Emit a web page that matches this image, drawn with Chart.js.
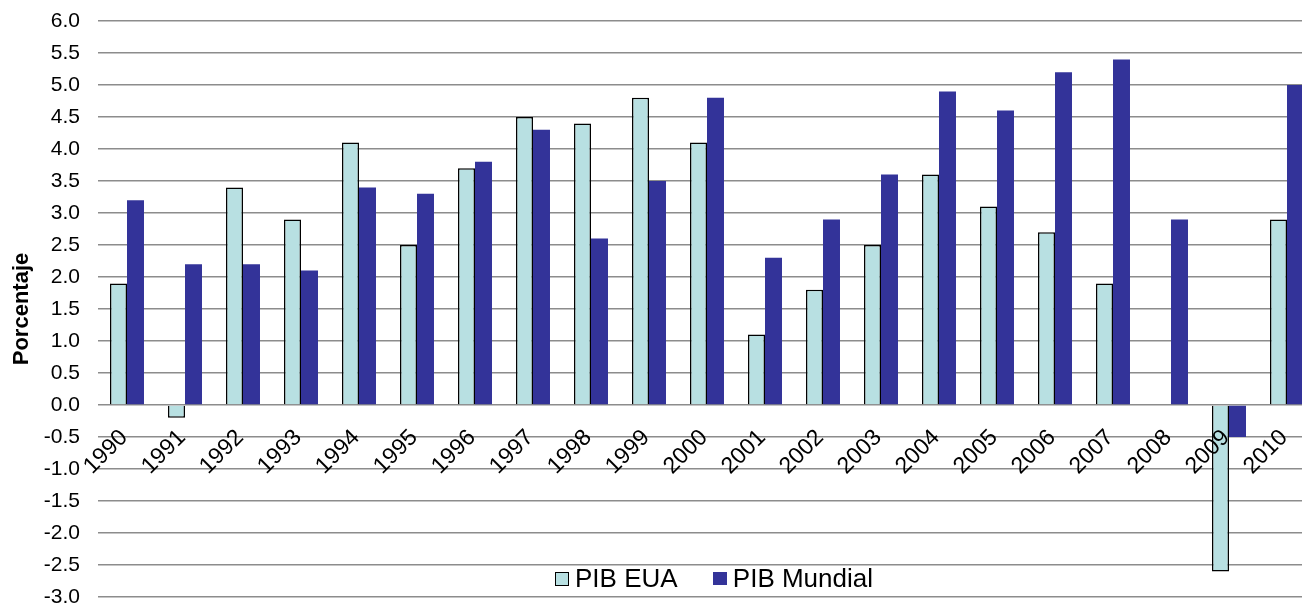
<!DOCTYPE html>
<html>
<head>
<meta charset="utf-8">
<script src="https://cdn.jsdelivr.net/npm/chart.js@4.4.0/dist/chart.umd.min.js"></script>
<style>
    html, body { margin: 0; padding: 0; background: #fff; overflow: hidden; }
    #wrap { position: relative; width: 1316px; height: 605px; }
    #legend { position: absolute; left: 555px; top: 561px; font: 26px "Liberation Sans", Arial, sans-serif; color: #000; white-space: nowrap; }
    #legend .item { display: inline-block; vertical-align: middle; }
    #legend .box { display: inline-block; width: 12px; height: 12px; margin-right: 6px; vertical-align: middle; position: relative; top: -1px; }
</style>
</head>
<body>
<div id="wrap">
    <canvas id="gdpChart" width="1316" height="605"></canvas>
    <div id="legend">
        <span class="item"><span class="box" style="background:#b8e0e2;border:1.5px solid #000;"></span>PIB EUA</span>
        <span class="item" style="margin-left:28px;"><span class="box" style="background:#333399;width:14px;height:13px;"></span>PIB Mundial</span>
    </div>
</div>
<script>
// Crecimiento del PIB (%) - EUA vs Mundial
const years = ['1990', '1991', '1992', '1993', '1994', '1995', '1996', '1997', '1998', '1999', '2000',
               '2001', '2002', '2003', '2004', '2005', '2006', '2007', '2008', '2009', '2010'];
const pibEUA = [1.9, -0.2, 3.4, 2.9, 4.1, 2.5, 3.7, 4.5, 4.4, 4.8, 4.1,
                1.1, 1.8, 2.5, 3.6, 3.1, 2.7, 1.9, 0.0, -2.6, 2.9];
const pibMundial = [3.2, 2.2, 2.2, 2.1, 3.4, 3.3, 3.8, 4.3, 2.6, 3.5, 4.8,
                    2.3, 2.9, 3.6, 4.9, 4.6, 5.2, 5.4, 2.9, -0.5, 5.0];
const yMin = -3.0;
const yMax = 6.0;
const yStep = 0.5;

const font = '"Liberation Sans", Arial, sans-serif';

// year labels hang off the zero line, rotated 45deg, drawn over the bars
const yearLabels = {
    id: 'yearLabels',
    afterDatasetsDraw(chart) {
        const ctx = chart.ctx;
        const xs = chart.scales.x;
        const y0 = chart.scales.y.getPixelForValue(0);
        ctx.save();
        ctx.font = '23px ' + font;
        ctx.fillStyle = '#000';
        ctx.textAlign = 'right';
        ctx.textBaseline = 'middle';
        years.forEach((lbl, i) => {
            const x = xs.getPixelForTick(i);
            ctx.save();
            ctx.translate(x - 3, y0 + 29);
            ctx.rotate(-Math.PI / 4);
            ctx.fillText(lbl, 0, 0);
            ctx.restore();
        });
        ctx.restore();
    }
};

new Chart(document.getElementById('gdpChart'), {
    type: 'bar',
    data: {
        labels: years,
        datasets: [{
            label: 'PIB EUA',
            data: pibEUA,
            backgroundColor: '#b8e0e2',
            borderColor: '#000',
            borderWidth: 1.5
        }, {
            label: 'PIB Mundial',
            data: pibMundial,
            backgroundColor: '#333399',
            borderWidth: 0
        }]
    },
    options: {
        responsive: false,
        animation: false,
        layout: { padding: { top: 21, bottom: 8, left: 0, right: 0 } },
        datasets: {
            bar: { categoryPercentage: 0.586, barPercentage: 1.0 }
        },
        plugins: {
            legend: { display: false },
            tooltip: { enabled: false }
        },
        scales: {
            x: {
                grid: { display: false },
                border: { display: false },
                ticks: { display: false },
                afterFit: s => { s.height = 0; s.paddingLeft = 0; s.paddingRight = 0; }
            },
            y: {
                min: yMin,
                max: yMax,
                border: { display: false },
                grid: { color: '#8c8c8c', lineWidth: 1.5, drawTicks: false },
                ticks: {
                    stepSize: yStep,
                    padding: 18,
                    color: '#000',
                    font: { family: font, size: 21 },
                    callback: v => v.toFixed(1)
                },
                title: {
                    display: true,
                    text: 'Porcentaje',
                    color: '#000',
                    padding: { top: 9, bottom: 0 },
                    font: { family: font, size: 22, weight: 'bold' }
                },
                afterFit: s => { s.width = 98; s.paddingTop = 0; s.paddingBottom = 0; }
            }
        }
    },
    plugins: [yearLabels]
});
</script>
</body>
</html>
